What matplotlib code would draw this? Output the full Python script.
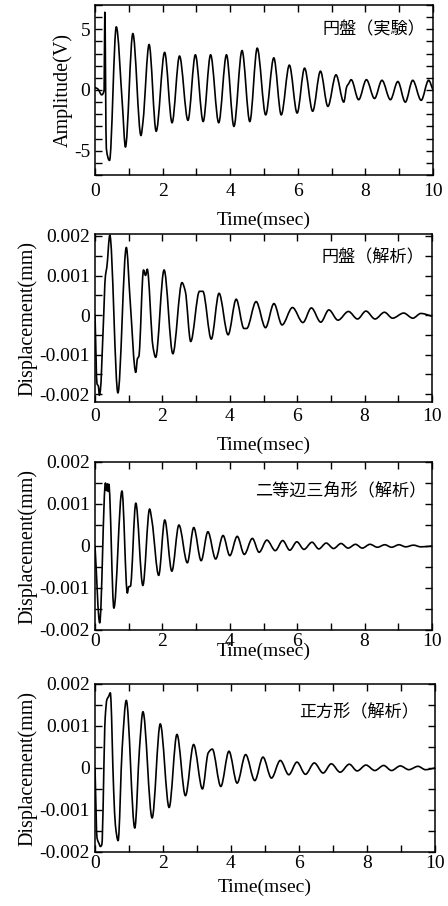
import matplotlib
matplotlib.use("Agg")
import matplotlib.pyplot as plt
from matplotlib.path import Path
from matplotlib.patches import PathPatch
from matplotlib.ticker import MultipleLocator, FixedLocator, FixedFormatter

plt.rcParams['font.family'] = ['Liberation Serif', 'DejaVu Serif']
plt.rcParams['axes.unicode_minus'] = False

# ---------------- data ----------------
titles = ["円盤（実験）", "円盤（解析）", "二等辺三角形（解析）", "正方形（解析）"]
ylabels = ["Amplitude(V)", "Displacement(mm)", "Displacement(mm)", "Displacement(mm)"]
xlabel = "Time(msec)"
xticks = [0, 2, 4, 6, 8, 10]
xticklabels = ["0", "2", "4", "6", "8", "10"]
yticks_amp = [-5, 0, 5]
yticklabels_amp = ["-5", "0", "5"]
yticks_disp = [-0.002, -0.001, 0.0, 0.001, 0.002]
yticklabels_disp = ["-0.002", "-0.001", "0", "0.001", "0.002"]

# Panel 1: disk, experiment (V)
t1 = [0.0, 0.08, 0.2, 0.27, 0.29, 0.335, 0.43, 0.63, 0.81, 0.9, 1.12, 1.36, 1.42,
      1.6, 1.81, 2.06, 2.28, 2.5, 2.75, 2.97, 3.2, 3.42, 3.66, 3.89, 4.11, 4.35,
      4.58, 4.8, 5.05, 5.29, 5.51, 5.75, 5.98, 6.2, 6.44, 6.67, 6.89, 7.13, 7.36,
      7.45, 7.5, 7.58, 7.8, 8.03, 8.27, 8.49, 8.74, 8.96, 9.18, 9.4, 9.65, 9.87, 10.0]
v1 = [0.2, 0.1, -0.4, 0.0, 6.4, -4.8, -5.8, 5.2, -1.2, -4.7, 4.65, -3.75, -2.6,
      3.75, -3.4, 3.1, -2.7, 2.8, -2.5, 2.9, -2.6, 2.9, -2.7, 2.9, -3.0, 3.25,
      -2.6, 3.45, -2.05, 2.65, -2.05, 2.05, -1.9, 1.8, -1.75, 1.55, -1.35, 1.25, -1.0,
      0.3, 0.5, 0.85, -0.8, 0.85, -0.7, 0.8, -0.8, 0.7, -1.0, 0.8, -0.85, 0.8, 0.0]

# Panel 2: disk, analysis (mm)
t2 = [0.0, 0.06, 0.1, 0.13, 0.16, 0.24, 0.31, 0.35, 0.44, 0.68, 0.93, 1.04, 1.21,
      1.26, 1.3, 1.44, 1.5, 1.55, 1.72, 1.8, 2.05, 2.31, 2.58, 2.68, 2.84, 3.1, 3.2,
      3.45, 3.68, 3.95, 4.19, 4.42, 4.5, 4.78, 5.06, 5.31, 5.55, 5.86, 6.17, 6.42,
      6.7, 6.94, 7.21, 7.52, 7.79, 8.04, 8.31, 8.59, 8.83, 9.16, 9.43, 9.67, 10.0]
d2 = [0.0, -0.00174, -0.0018, -0.00203, -0.0019, -0.0004, 0.001, 0.0012, 0.00202,
      -0.00197, 0.00171, 0.0004, -0.00145, -0.0011, -0.00105, 0.00114, 0.001,
      0.00116, -0.0008, -0.00107, 0.00114, -0.00098, 0.00082, 0.0006, -0.00067,
      0.0006, 0.0006, -0.00061, 0.00055, -0.0005, 0.0004, -0.00034, -0.00034,
      0.00034, -0.00032, 0.00029, -0.00025, 0.00019, -0.00019, 0.00018, -0.00018,
      0.00013, -0.00013, 0.00009, -0.0001, 0.0001, -0.0001, 0.00007, -0.00008,
      0.00005, -0.00008, 0.00004, -0.00003]

# Panel 3: isosceles triangle, analysis (mm)
t3 = [0.0, 0.14, 0.31, 0.34, 0.37, 0.39, 0.41, 0.56, 0.8, 0.96, 1.0, 1.05, 1.21,
      1.42, 1.62, 1.69, 1.89, 2.07, 2.28, 2.49, 2.74, 2.93, 3.15, 3.35, 3.58, 3.8,
      4.0, 4.22, 4.43, 4.67, 4.87, 5.1, 5.35, 5.57, 5.78, 5.99, 6.2, 6.44, 6.64,
      6.86, 7.08, 7.3, 7.51, 7.73, 7.93, 8.16, 8.38, 8.6, 8.8, 9.02, 9.22, 9.45,
      9.67, 10.0]
d3 = [0.0, -0.00183, 0.0015, 0.00132, 0.00148, 0.0013, 0.00147, -0.00148, 0.00131,
      -0.00112, -0.00097, -0.00096, 0.00102, -0.00094, 0.00088, 0.0006, -0.0007,
      0.00062, -0.0006, 0.0005, -0.0004, 0.00044, -0.00035, 0.00034, -0.00031,
      0.00025, -0.00023, 0.00023, -0.0002, 0.00018, -0.00015, 0.00014, -0.00011,
      0.00013, -0.0001, 0.0001, -0.00008, 0.00009, -0.00007, 0.00007, -0.00006,
      0.00006, -0.00005, 0.00004, -0.00005, 0.00004, -0.00003, 0.00003, -0.00003,
      0.00003, -0.00002, 0.00002, -0.00002, 0.0]

# Panel 4: square, analysis (mm)
t4 = [0.0, 0.06, 0.11, 0.16, 0.2, 0.3, 0.35, 0.4, 0.45, 0.55, 0.6, 0.68, 0.8, 0.92,
      1.17, 1.31, 1.41, 1.68, 1.92, 2.18, 2.41, 2.66, 2.9, 3.16, 3.33, 3.45, 3.7,
      3.94, 4.18, 4.43, 4.7, 4.94, 5.19, 5.45, 5.7, 5.94, 6.19, 6.45, 6.71, 6.95,
      7.21, 7.48, 7.71, 7.97, 8.23, 8.49, 8.72, 8.98, 9.23, 9.5, 9.72, 10.0]
d4 = [0.0, -0.00167, -0.00178, -0.00187, -0.00183, 0.0012, 0.00163, 0.0017,
      0.00179, -0.00056, -0.00136, -0.00173, 0.00048, 0.00161, -0.00143, 0.00048,
      0.00134, -0.00119, 0.00105, -0.00094, 0.0008, -0.00066, 0.00056, -0.0005,
      0.00036, 0.00045, -0.00044, 0.0004, -0.00036, 0.00032, -0.0003, 0.00026,
      -0.00024, 0.00018, -0.00016, 0.00014, -0.00015, 0.00012, -0.00012, 0.0001,
      -0.0001, 0.00009, -0.00007, 0.00007, -0.00006, 0.00006, -0.00006, 0.00005,
      -0.00004, 0.00004, -0.00004, 0.0]

series = [(t1, v1), (t2, d2), (t3, d3), (t4, d4)]


def smooth_path(xs, ys):
    """Monotone (no-overshoot) cubic Bezier path through every data point."""
    n = len(xs)
    h = [xs[i + 1] - xs[i] for i in range(n - 1)]
    s = [(ys[i + 1] - ys[i]) / h[i] for i in range(n - 1)]
    m = [0.0] * n
    m[0] = s[0]
    m[-1] = s[-1]
    for i in range(1, n - 1):
        if s[i - 1] * s[i] <= 0:
            m[i] = 0.0
        else:
            w1 = 2 * h[i] + h[i - 1]
            w2 = h[i] + 2 * h[i - 1]
            m[i] = (w1 + w2) / (w1 / s[i - 1] + w2 / s[i])
    verts = [(xs[0], ys[0])]
    codes = [Path.MOVETO]
    for i in range(n - 1):
        c1 = (xs[i] + h[i] / 3, ys[i] + m[i] * h[i] / 3)
        c2 = (xs[i + 1] - h[i] / 3, ys[i + 1] - m[i + 1] * h[i] / 3)
        verts += [c1, c2, (xs[i + 1], ys[i + 1])]
        codes += [Path.CURVE4] * 3
    return Path(verts, codes)


# ---------------- layout ----------------
W, H = 448, 906
fig = plt.figure(figsize=(W / 100, H / 100), dpi=100)

# pixel boxes: left, right, top, bottom
boxes = [(95, 433, 5, 175), (95, 432, 234, 402), (95, 432, 462, 630), (95, 435, 684, 852)]
ylims = [(-7, 7), (-0.0022, 0.00205), (-0.002, 0.002), (-0.002, 0.002)]
yminor = [1, 0.0005, 0.0005, 0.0005]
xpads = [6.0, 4.5, 2.0, 2.2]
xlabel_top = [212, 437, 643, 879]
ylabel_cx = [63, 28, 28, 28]
title_right = [425, 424, 426, 419]
title_cy = [29, 257, 490, 712]

for i, (tt, yy) in enumerate(series):
    l, r, top, b = boxes[i]
    ax = fig.add_axes([l / W, 1 - b / H, (r - l) / W, (b - top) / H])
    ax.add_patch(PathPatch(smooth_path(tt, yy), fill=False, edgecolor='black',
                           lw=1.2, joinstyle='round', capstyle='round',
                           transform=ax.transData))
    ax.set_xlim(0, 10)
    ax.set_ylim(*ylims[i])
    ax.xaxis.set_major_locator(FixedLocator(xticks))
    ax.xaxis.set_major_formatter(FixedFormatter(xticklabels))
    ax.xaxis.set_minor_locator(MultipleLocator(1))
    if i == 0:
        ax.yaxis.set_major_locator(FixedLocator(yticks_amp))
        ax.yaxis.set_major_formatter(FixedFormatter(yticklabels_amp))
    else:
        ax.yaxis.set_major_locator(FixedLocator(yticks_disp))
        ax.yaxis.set_major_formatter(FixedFormatter(yticklabels_disp))
    ax.yaxis.set_minor_locator(MultipleLocator(yminor[i]))
    ax.tick_params(which='both', direction='in', top=True, right=True,
                   length=5, width=1.0, labelsize=14, colors='black')
    ax.tick_params(axis='x', which='both', pad=xpads[i])
    ax.tick_params(axis='y', which='both', pad=3.5)
    for sp in ax.spines.values():
        sp.set_linewidth(1.1)
    ah = b - top
    aw = r - l
    ax.set_xlabel(xlabel, fontsize=14)
    ax.xaxis.set_label_coords(0.5, -(xlabel_top[i] - b) / ah)
    ax.set_ylabel(ylabels[i], fontsize=14.5, va='center')
    ax.yaxis.set_label_coords((ylabel_cx[i] - l) / aw, 0.5)
    ax.text((title_right[i] - l) / aw, 1 - (title_cy[i] - top) / ah, titles[i],
            transform=ax.transAxes, ha='right', va='center', fontsize=12.3,
            family=['Noto Sans CJK JP', 'DejaVu Sans'])

fig.savefig("out.png", dpi=100)
